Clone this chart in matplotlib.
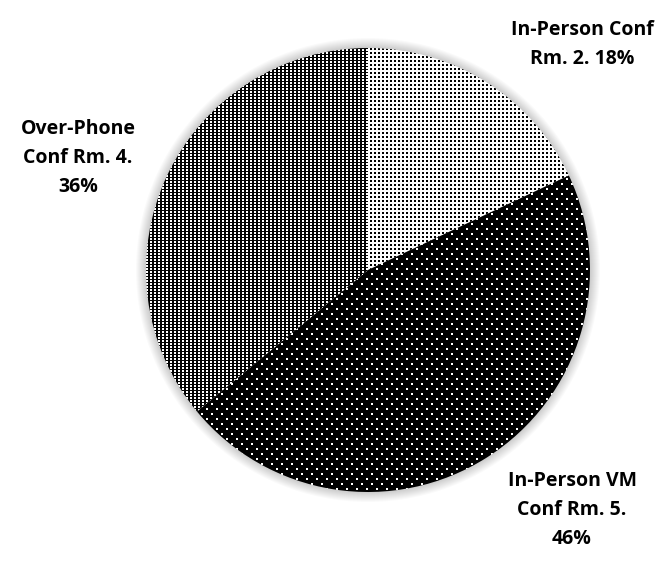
"""
会议室使用占比饼图（点状纹理填充，仿 Office 图案）
"""

import matplotlib

matplotlib.use("Agg")
import matplotlib.pyplot as plt
import numpy as np
from matplotlib.patches import Circle

# 数据
labels = [
    "In-Person Conf\nRm. 2. 18%",
    "In-Person VM\nConf Rm. 5.\n46%",
    "Over-Phone\nConf Rm. 4.\n36%",
]
shares = [18, 46, 36]
patterns = ["light", "dark", "medium"]

# 画布尺寸（像素）
FIG_W, FIG_H = 670, 561
CX, CY = 368, 270      # 饼图圆心（像素，自顶部计）
R = 222                # 半径（像素）
PAD = 20               # 阴影留白


def make_texture(kind: str, n: int) -> np.ndarray:
    """生成像素级点状纹理，1 = 白，0 = 黑"""
    ii, jj = np.mgrid[0:n, 0:n]
    if kind == "light":
        tex = np.ones((n, n))
        tex[(ii % 4 < 2) & (jj % 4 < 2)] = 0
    elif kind == "medium":
        tex = np.zeros((n, n))
        tex[(ii % 3 < 2) & (jj % 4 < 2)] = 1
    else:
        tex = np.zeros((n, n))
        shift = ((ii // 5) % 2) * 5
        tex[(ii % 5 < 2) & ((jj + shift) % 10 < 2)] = 1
    return tex


def main() -> None:
    fig = plt.figure(figsize=(FIG_W / 100, FIG_H / 100), dpi=100)
    size = 2 * (R + PAD)
    ax = fig.add_axes([
        (CX - R - PAD) / FIG_W,
        (FIG_H - CY - R - PAD) / FIG_H,
        size / FIG_W,
        size / FIG_H,
    ])
    lim = (R + PAD) / R

    # 柔和阴影
    for k in range(10, 0, -1):
        ax.add_patch(Circle((0.0, 0.0), 1 + k * 1.0 / R, facecolor="black",
                            edgecolor="none", alpha=0.018, zorder=0))

    wedges, _ = ax.pie(shares, startangle=90, counterclock=False,
                       wedgeprops=dict(linewidth=0))

    for w, kind in zip(wedges, patterns):
        w.set_facecolor("none")
        w.set_zorder(2)
        im = ax.imshow(make_texture(kind, size), cmap="gray", vmin=0, vmax=1,
                       extent=[-lim, lim, -lim, lim], interpolation="nearest",
                       zorder=1)
        im.set_clip_path(w)

    ax.set_xlim(-lim, lim)
    ax.set_ylim(-lim, lim)
    ax.set_axis_off()

    # 标签位置（像素 -> 数据坐标）
    label_px = [(582, 45), (572, 510), (78, 158)]
    for text, (px, py) in zip(labels, label_px):
        ax.text((px - CX) / R, (CY - py) / R, text, ha="center", va="center",
                fontsize=14, fontweight="bold", family="Open Sans",
                linespacing=1.6, color="black")

    fig.savefig("out.png", dpi=100)


if __name__ == "__main__":
    main()
